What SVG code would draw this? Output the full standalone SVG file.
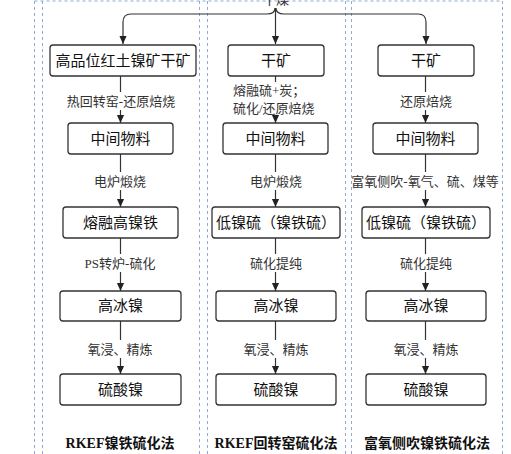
<svg xmlns="http://www.w3.org/2000/svg" width="511" height="454" viewBox="0 0 511 454">
<defs>
<marker id="ah" markerWidth="8" markerHeight="9" refX="4" refY="8" orient="auto-start-reverse" markerUnits="userSpaceOnUse" viewBox="0 0 8 9">
<path d="M0,0 L8,0 L4,9 Z" fill="#222" transform="rotate(0)"/>
</marker>
<marker id="arr" markerWidth="8" markerHeight="9" refX="9" refY="4" orient="auto" markerUnits="userSpaceOnUse" viewBox="0 0 9 8">
<path d="M0,0 L9,4 L0,8 Z" fill="#222"/>
</marker>
</defs>
<style>
.frame{stroke:#8eaad6;stroke-width:1;stroke-dasharray:3,3;fill:none}
.box{fill:#fff;stroke:#333;stroke-width:1.3}
.bt{font-family:"Noto Sans CJK SC","Liberation Sans",sans-serif;font-size:15px;fill:#111;text-anchor:middle}
.lb{font-family:"Liberation Serif","Noto Sans CJK SC",serif;font-size:13px;fill:#333;text-anchor:middle}
.ft{font-family:"Liberation Serif","Noto Sans CJK SC",serif;font-size:14px;font-weight:bold;fill:#111;text-anchor:middle}
.ln{stroke:#333;stroke-width:1.2;fill:none}
.la{stroke:#333;stroke-width:1.2;fill:none;marker-end:url(#arr)}
</style>
<rect width="511" height="454" fill="#fff"/>
<g id="frames">
<line class="frame" x1="34.5" y1="1" x2="502.5" y2="1"/>
<line class="frame" x1="34.5" y1="1" x2="34.5" y2="454"/>
<line class="frame" x1="42.5" y1="1" x2="42.5" y2="454"/>
<line class="frame" x1="199.5" y1="1" x2="199.5" y2="454"/>
<line class="frame" x1="207.5" y1="1" x2="207.5" y2="454"/>
<line class="frame" x1="345.5" y1="1" x2="345.5" y2="454"/>
<line class="frame" x1="351.5" y1="1" x2="351.5" y2="454"/>
<line class="frame" x1="502.5" y1="1" x2="502.5" y2="454"/>
</g>
<text class="lb" x="276" y="4" style="font-family:'Noto Sans CJK SC',sans-serif">干燥</text>
<g id="connectors">
<path class="la" d="M275,8 Q275,14 267,14 L131,14 Q123,14 123,22 L123,44"/>
<path class="la" d="M276,8 Q276,14 284,14 L418,14 Q426,14 426,22 L426,44"/>
<path class="la" d="M275.5,8 L275.5,44"/>
<!-- col1 -->
<path class="ln" d="M120.5,76 L120.5,92"/>
<path class="la" d="M120.5,110 L120.5,123"/>
<path class="ln" d="M120.5,154 L120.5,172"/>
<path class="la" d="M120.5,190 L120.5,207"/>
<path class="ln" d="M120.5,238 L120.5,254"/>
<path class="la" d="M120.5,272 L120.5,291"/>
<path class="ln" d="M120.5,321 L120.5,340"/>
<path class="la" d="M120.5,358 L120.5,374"/>
<!-- col2 -->
<path class="ln" d="M275.5,76 L275.5,82"/>
<path class="la" d="M275.5,117 L275.5,123"/>
<path class="ln" d="M275.5,154 L275.5,172"/>
<path class="la" d="M275.5,190 L275.5,207"/>
<path class="ln" d="M275.5,238 L275.5,254"/>
<path class="la" d="M275.5,272 L275.5,291"/>
<path class="ln" d="M275.5,321 L275.5,340"/>
<path class="la" d="M275.5,358 L275.5,374"/>
<!-- col3 -->
<path class="ln" d="M425.5,76 L425.5,92"/>
<path class="la" d="M425.5,110 L425.5,123"/>
<path class="ln" d="M425.5,154 L425.5,172"/>
<path class="la" d="M425.5,190 L425.5,207"/>
<path class="ln" d="M425.5,238 L425.5,254"/>
<path class="la" d="M425.5,272 L425.5,291"/>
<path class="ln" d="M425.5,321 L425.5,340"/>
<path class="la" d="M425.5,358 L425.5,374"/>
</g>
<g id="labels">
<text class="lb" x="121" y="106">热回转窑-还原焙烧</text>
<text class="lb" x="233" y="95" text-anchor="start" style="text-anchor:start">熔融硫+炭；</text>
<text class="lb" x="233" y="113" style="text-anchor:start">硫化/还原焙烧</text>
<text class="lb" x="426" y="106">还原焙烧</text>
<text class="lb" x="120" y="186">电炉煅烧</text>
<text class="lb" x="276" y="186">电炉煅烧</text>
<text class="lb" x="425" y="186">富氧侧吹-氧气、硫、煤等</text>
<text class="lb" x="120" y="268">PS转炉-硫化</text>
<text class="lb" x="276" y="268">硫化提纯</text>
<text class="lb" x="426" y="268">硫化提纯</text>
<text class="lb" x="120" y="354">氧浸、精炼</text>
<text class="lb" x="276" y="354">氧浸、精炼</text>
<text class="lb" x="426" y="354">氧浸、精炼</text>
</g>
<g id="n1a"><rect class="box" x="50" y="45" width="146" height="31" rx="3"/><text class="bt" x="123" y="66">高品位红土镍矿干矿</text></g>
<g id="n2a"><rect class="box" x="228" y="45" width="96" height="31" rx="3"/><text class="bt" x="276" y="66">干矿</text></g>
<g id="n3a"><rect class="box" x="378" y="45" width="96" height="31" rx="3"/><text class="bt" x="426" y="66">干矿</text></g>
<g id="n1b"><rect class="box" x="68" y="123" width="105" height="31" rx="3"/><text class="bt" x="120.5" y="144">中间物料</text></g>
<g id="n2b"><rect class="box" x="223" y="123" width="105" height="31" rx="3"/><text class="bt" x="275.5" y="144">中间物料</text></g>
<g id="n3b"><rect class="box" x="373" y="123" width="105" height="31" rx="3"/><text class="bt" x="425.5" y="144">中间物料</text></g>
<g id="n1c"><rect class="box" x="63" y="207" width="115" height="31" rx="3"/><text class="bt" x="120.5" y="228">熔融高镍铁</text></g>
<g id="n2c"><rect class="box" x="212" y="207" width="128" height="31" rx="3"/><text class="bt" x="276" y="228">低镍硫（镍铁硫）</text></g>
<g id="n3c"><rect class="box" x="362" y="207" width="128" height="31" rx="3"/><text class="bt" x="426" y="228">低镍硫（镍铁硫）</text></g>
<g id="n1d"><rect class="box" x="60" y="291" width="121" height="30" rx="3"/><text class="bt" x="120.5" y="311">高冰镍</text></g>
<g id="n2d"><rect class="box" x="216" y="291" width="120" height="30" rx="3"/><text class="bt" x="276" y="311">高冰镍</text></g>
<g id="n3d"><rect class="box" x="366" y="291" width="120" height="30" rx="3"/><text class="bt" x="426" y="311">高冰镍</text></g>
<g id="n1e"><rect class="box" x="60" y="374" width="121" height="31" rx="3"/><text class="bt" x="120.5" y="395">硫酸镍</text></g>
<g id="n2e"><rect class="box" x="216" y="374" width="120" height="31" rx="3"/><text class="bt" x="276" y="395">硫酸镍</text></g>
<g id="n3e"><rect class="box" x="366" y="374" width="120" height="31" rx="3"/><text class="bt" x="426" y="395">硫酸镍</text></g>
<g id="titles">
<text class="ft" x="120" y="448">RKEF镍铁硫化法</text>
<text class="ft" x="276" y="448">RKEF回转窑硫化法</text>
<text class="ft" x="427" y="448">富氧侧吹镍铁硫化法</text>
</g>
</svg>
